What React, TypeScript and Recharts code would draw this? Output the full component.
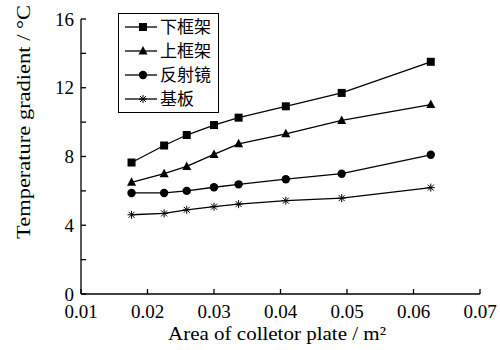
import React from 'react';
import { LineChart, Line, XAxis, YAxis, Label } from 'recharts';

const areas = [0.0176, 0.0225, 0.0259, 0.03, 0.0337, 0.0408, 0.0492, 0.0626];
const lowerFrame = [7.65, 8.64, 9.25, 9.83, 10.26, 10.92, 11.7, 13.51];
const upperFrame = [6.5, 7.0, 7.42, 8.12, 8.74, 9.32, 10.1, 11.02];
const reflector = [5.88, 5.88, 6.0, 6.21, 6.38, 6.68, 7.0, 8.1];
const baseplate = [4.61, 4.69, 4.9, 5.08, 5.23, 5.43, 5.58, 6.19];

const xTicks = [0.01, 0.02, 0.03, 0.04, 0.05, 0.06, 0.07];
const yTicks = [0, 2, 4, 6, 8, 10, 12, 14, 16];

const names = ['下框架', '上框架', '反射镜', '基板'];
const keys = ['lower', 'upper', 'reflector', 'base'];
const markers = ['square', 'triangle', 'circle', 'star'];

const data = areas.map((a, i) => ({
  area: a,
  lower: lowerFrame[i],
  upper: upperFrame[i],
  reflector: reflector[i],
  base: baseplate[i],
}));

const FONT = '"Liberation Serif", "Times New Roman", serif';

function Marker({ kind, cx, cy }: { kind: string; cx: number; cy: number }) {
  if (kind === 'square') return <rect x={cx - 4} y={cy - 4} width={8} height={8} fill="#000" />;
  if (kind === 'triangle')
    return <polygon points={`${cx},${cy - 5} ${cx + 4.5},${cy + 3.5} ${cx - 4.5},${cy + 3.5}`} fill="#000" />;
  if (kind === 'circle') return <circle cx={cx} cy={cy} r={4.2} fill="#000" />;
  const r = 4;
  return (
    <g stroke="#000" strokeWidth={1}>
      <line x1={cx - r} y1={cy} x2={cx + r} y2={cy} />
      <line x1={cx} y1={cy - r} x2={cx} y2={cy + r} />
      <line x1={cx - 3} y1={cy - 3} x2={cx + 3} y2={cy + 3} />
      <line x1={cx - 3} y1={cy + 3} x2={cx + 3} y2={cy - 3} />
    </g>
  );
}

const makeDot = (kind: string) => (props: any) => {
  const { cx, cy, index } = props;
  if (cx == null || cy == null) return <g key={index} />;
  return (
    <g key={index}>
      <Marker kind={kind} cx={cx} cy={cy} />
    </g>
  );
};

const LegendBox = () => (
  <svg width={101} height={100} style={{ display: 'block' }}>
    <rect x={0.5} y={0.5} width={100} height={99} fill="#fff" stroke="#000" strokeWidth={1} />
    {names.map((n, i) => {
      const y = 14 + i * 24;
      return (
        <g key={n}>
          <line x1={7} y1={y} x2={39} y2={y} stroke="#000" strokeWidth={1.3} />
          <Marker kind={markers[i]} cx={25} cy={y} />
          <text x={42} y={y + 6} fontSize={17} fontFamily='"Noto Sans CJK SC", serif' fill="#000">
            {n}
          </text>
        </g>
      );
    })}
  </svg>
);

export default function App() {
  return (
    <div style={{ position: 'absolute', left: 0, top: 0, width: 500, height: 350, background: '#fff' }}>
      <LineChart width={500} height={350} data={data} margin={{ top: 19, right: 20, bottom: 0, left: 0 }}>
        <XAxis
          dataKey="area"
          type="number"
          domain={[0.01, 0.07]}
          ticks={xTicks}
          tickFormatter={(v: number) => v.toFixed(2)}
          height={56}
          tickSize={-5}
          tickMargin={16}
          stroke="#000"
          strokeWidth={1.3}
          tick={{ fill: '#000', fontSize: 19, fontFamily: FONT }}
          interval={0}
        >
          <Label
            content={() => (
              <text
                x={277}
                y={340}
                textAnchor="middle"
                fontSize={19}
                fontFamily={FONT}
                fill="#000"
                textLength={218}
                lengthAdjust="spacingAndGlyphs"
              >
                Area of colletor plate / m²
              </text>
            )}
          />
        </XAxis>
        <YAxis
          type="number"
          domain={[0, 16]}
          ticks={yTicks}
          tickFormatter={(v: number) => (v % 4 === 0 ? String(v) : '')}
          width={81}
          tickSize={-5}
          tickMargin={12}
          stroke="#000"
          strokeWidth={1.3}
          tick={{ fill: '#000', fontSize: 19, fontFamily: FONT }}
          interval={0}
        >
          <Label
            content={() => (
              <text
                x={0}
                y={0}
                transform="translate(30,122) rotate(-90)"
                textAnchor="middle"
                fontSize={19}
                fontFamily={FONT}
                fill="#000"
                textLength={234}
                lengthAdjust="spacingAndGlyphs"
              >
                Temperature gradient / °C
              </text>
            )}
          />
        </YAxis>
        {keys.map((k, i) => (
          <Line
            key={k}
            dataKey={k}
            name={names[i]}
            stroke="#000"
            strokeWidth={1.3}
            dot={makeDot(markers[i])}
            activeDot={false}
            isAnimationActive={false}
          />
        ))}
      </LineChart>
      <div style={{ position: 'absolute', left: 118, top: 13 }}>
        <LegendBox />
      </div>
    </div>
  );
}
